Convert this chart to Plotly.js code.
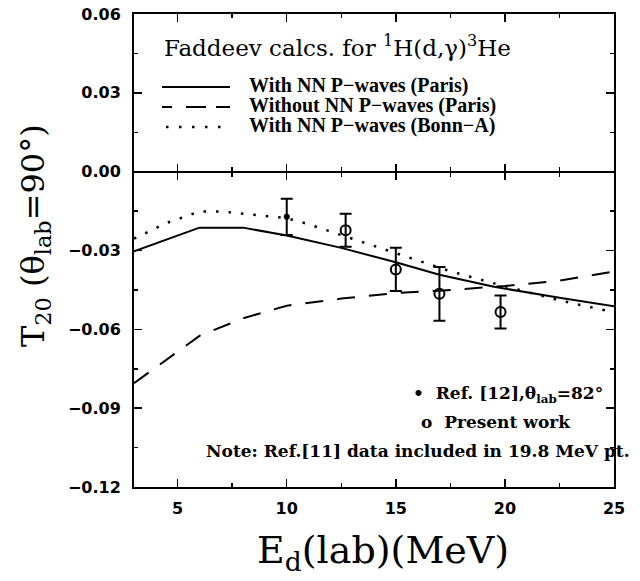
<!DOCTYPE html>
<html>
<head>
<meta charset="utf-8">
<script src="https://cdn.plot.ly/plotly-3.0.1.min.js"></script>
<style>html,body{margin:0;padding:0;background:#fff;}#chart{width:640px;height:581px;}</style>
</head>
<body>
<div id="chart"></div>
<script>
// Faddeev calculations
const pWaveParisE = [3, 6, 8, 10, 12.5, 15, 17, 19.5, 22.5, 25];
const pWaveParisT20 = [-0.0303, -0.0213, -0.0213, -0.0243, -0.029, -0.0345, -0.0392, -0.0438, -0.048, -0.0512];

const noPWaveParisE = [3, 4.5, 6, 8, 10, 12.5, 15, 17, 20, 22.5, 25];
const noPWaveParisT20 = [-0.0805, -0.0714, -0.0625, -0.0558, -0.051, -0.0483, -0.0462, -0.0453, -0.0435, -0.0415, -0.038];

const bonnAE = [3, 4.5, 6, 7, 8, 10, 11, 13, 15, 17.5, 19.5, 22.5, 25];
const bonnAT20 = [-0.0255, -0.0195, -0.0152, -0.0151, -0.016, -0.0177, -0.02, -0.0255, -0.031, -0.0379, -0.0425, -0.049, -0.0535];

// Data
const ref12E = [10];
const ref12T20 = [-0.0172];
const ref12Err = [0.0069];

const presentE = [12.7, 15, 17, 19.8];
const presentT20 = [-0.0223, -0.0372, -0.0465, -0.0534];
const presentErr = [0.0063, 0.0082, 0.0102, 0.0063];

// Axis ticks
const xTicks = [5, 10, 15, 20, 25];
const yTicks = [-0.12, -0.09, -0.06, -0.03, 0.00, 0.03, 0.06];

const black = '#000';
const serif = 'DejaVu Serif';
const sans = 'DejaVu Sans';

const traces = [
  {x: pWaveParisE, y: pWaveParisT20, mode: 'lines', line: {color: black, width: 2}, hoverinfo: 'skip'},
  {x: noPWaveParisE, y: noPWaveParisT20, mode: 'lines', line: {color: black, width: 2, dash: '18px,14px'}, hoverinfo: 'skip'},
  {x: bonnAE, y: bonnAT20, mode: 'lines', line: {color: black, width: 2.5, dash: '2.5px,10px'}, hoverinfo: 'skip'},
  {x: ref12E, y: ref12T20, mode: 'markers', marker: {symbol: 'circle', size: 6, color: black},
   error_y: {type: 'data', array: ref12Err, visible: true, color: black, thickness: 2, width: 6}},
  {x: presentE, y: presentT20, mode: 'markers', marker: {symbol: 'circle-open', size: 10, color: black, line: {width: 2, color: black}},
   error_y: {type: 'data', array: presentErr, visible: true, color: black, thickness: 2, width: 6}},
  {x: [], y: [], xaxis: 'x2', yaxis: 'y', mode: 'lines'},
  {x: [], y: [], xaxis: 'x3', yaxis: 'y', mode: 'lines'}
];

const zeroAxis = {
  overlaying: 'x', anchor: 'free', position: 2/3, range: [3, 25],
  showline: true, linewidth: 2, linecolor: black,
  ticks: 'inside', ticklen: 7, tickwidth: 1.5, tickcolor: black,
  tickvals: xTicks, showticklabels: false, showgrid: false, zeroline: false,
  minor: {dtick: 2.5, tick0: 0, ticks: 'inside', ticklen: 4, tickwidth: 1.5, tickcolor: black}
};

function px(p) { return (p - 134) / 480; }
function py(p) { return (487 - p) / 473; }

const legendFont = {family: 'Liberation Serif', size: 20, color: black, weight: 'bold'};
const noteFont = {family: serif, size: 17, color: black, weight: 'bold'};

const layout = {
  width: 640, height: 581,
  margin: {l: 134, r: 26, t: 14, b: 94},
  paper_bgcolor: '#fff', plot_bgcolor: '#fff',
  showlegend: false,
  xaxis: {
    range: [3, 25], tickvals: xTicks, ticktext: xTicks.map(String),
    showline: true, linewidth: 2, linecolor: black, mirror: 'ticks',
    ticks: 'inside', ticklen: 8, tickwidth: 1.5, tickcolor: black,
    showgrid: false, zeroline: false,
    tickfont: {family: sans, size: 16, color: black, weight: 'bold'},
    ticklabelstandoff: 6,
    minor: {dtick: 2.5, tick0: 0, ticks: 'inside', ticklen: 4, tickwidth: 1.5, tickcolor: black}
  },
  xaxis2: Object.assign({}, zeroAxis, {side: 'bottom'}),
  xaxis3: Object.assign({}, zeroAxis, {side: 'top'}),
  yaxis: {
    range: [-0.12, 0.06], tickvals: yTicks, tickformat: '.2f',
    showline: true, linewidth: 2, linecolor: black, mirror: 'ticks',
    ticks: 'inside', ticklen: 8, tickwidth: 1.5, tickcolor: black,
    showgrid: false, zeroline: false,
    tickfont: {family: sans, size: 16, color: black, weight: 'bold'},
    ticklabelstandoff: 8,
    minor: {dtick: 0.015, tick0: 0, ticks: 'inside', ticklen: 4, tickwidth: 1.5, tickcolor: black}
  },
  shapes: [
    {type: 'line', xref: 'paper', yref: 'paper', x0: px(162), x1: px(230), y0: py(87), y1: py(87), line: {color: black, width: 2}},
    {type: 'line', xref: 'paper', yref: 'paper', x0: px(162), x1: px(230), y0: py(107), y1: py(107), line: {color: black, width: 2, dash: '10px,14px,20px'}},
    {type: 'line', xref: 'paper', yref: 'paper', x0: px(166), x1: px(222), y0: py(127), y1: py(127), line: {color: black, width: 2.5, dash: '2.5px,10.5px'}}
  ],
  annotations: [
    {xref: 'paper', yref: 'paper', x: px(162), y: py(46), xanchor: 'left', yanchor: 'middle', showarrow: false,
     text: 'Faddeev calcs. for <sup>1</sup>H(d,γ)<sup>3</sup>He', font: {family: serif, size: 23, color: black}},
    {xref: 'paper', yref: 'paper', x: px(247), y: py(85.5), xanchor: 'left', yanchor: 'middle', showarrow: false,
     text: 'With NN P−waves (Paris)', font: legendFont},
    {xref: 'paper', yref: 'paper', x: px(247), y: py(105.5), xanchor: 'left', yanchor: 'middle', showarrow: false,
     text: 'Without NN P−waves (Paris)', font: legendFont},
    {xref: 'paper', yref: 'paper', x: px(247), y: py(125.5), xanchor: 'left', yanchor: 'middle', showarrow: false,
     text: 'With NN P−waves (Bonn−A)', font: legendFont},
    {xref: 'paper', yref: 'paper', x: px(605), y: py(394), xanchor: 'right', yanchor: 'middle', showarrow: false,
     text: '•  Ref. [12],θ<sub>lab</sub>=82°', font: noteFont},
    {xref: 'paper', yref: 'paper', x: px(419), y: py(422), xanchor: 'left', yanchor: 'middle', showarrow: false,
     text: 'o  Present work', font: noteFont},
    {xref: 'paper', yref: 'paper', x: px(204), y: py(451), xanchor: 'left', yanchor: 'middle', showarrow: false,
     text: 'Note: Ref.[11] data included in 19.8 MeV pt.', font: noteFont},
    {xref: 'paper', yref: 'paper', x: px(383), y: py(552), xanchor: 'center', yanchor: 'middle', showarrow: false,
     text: 'E<sub>d</sub>(lab)(MeV)', font: {family: serif, size: 38, color: black}},
    {xref: 'paper', yref: 'paper', x: px(35), y: py(236), xanchor: 'center', yanchor: 'middle', showarrow: false, textangle: -90,
     text: 'T<sub>20</sub> (θ<sub>lab</sub>=90°)', font: {family: serif, size: 32, color: black}}
  ]
};

Plotly.newPlot('chart', traces, layout, {displayModeBar: false, staticPlot: true});
</script>
</body>
</html>
